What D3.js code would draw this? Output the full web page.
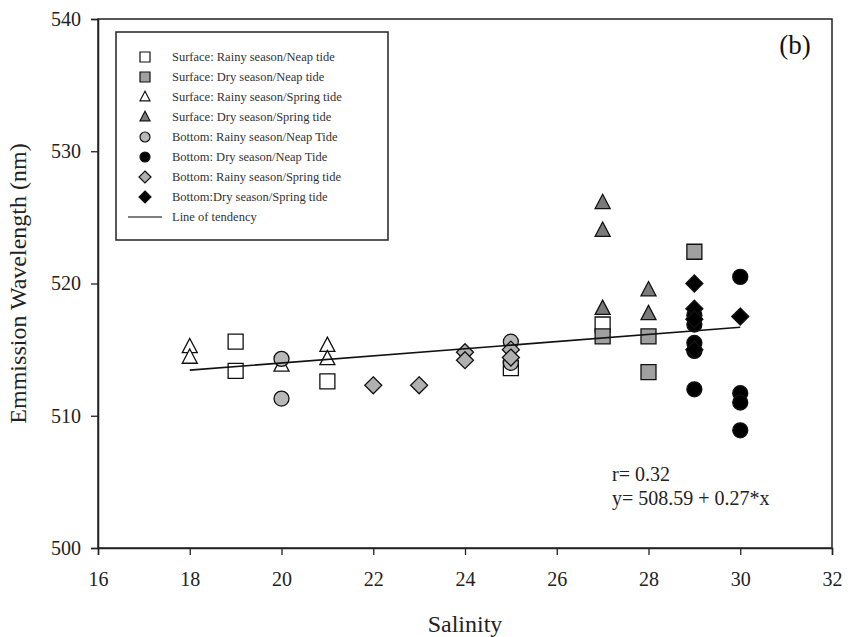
<!DOCTYPE html>
<html>
<head>
<meta charset="utf-8">
<script src="https://cdn.jsdelivr.net/npm/d3@7"></script>
<style>
  body { margin: 0; background: #fff; }
  svg { font-family: "Liberation Serif", "DejaVu Serif", serif; }
</style>
</head>
<body>
<div id="chart"></div>
<script>
/* Emission wavelength vs salinity, panel (b) */

// [salinity, wavelength] pairs for each group
const surfRainyNeap   = [[19, 515.6], [19, 513.4], [21, 512.6], [25, 513.6], [27, 516.9]];
const surfDryNeap     = [[27, 516.0], [28, 516.0], [28, 513.3], [29, 522.4]];
const surfRainySpring = [[18, 515.2], [18, 514.4], [20, 513.8], [21, 515.3], [21, 514.3]];
const surfDrySpring   = [[27, 526.1], [27, 524.0], [27, 518.1], [28, 519.5], [28, 517.7]];
const botRainyNeap    = [[20, 514.3], [20, 511.3], [25, 515.6], [25, 514.0]];
const botDryNeap      = [[29, 517.6], [29, 516.9], [29, 515.5], [29, 514.9], [29, 512.0],
                         [30, 520.5], [30, 511.7], [30, 511.0], [30, 508.9]];
const botRainySpring  = [[22, 512.3], [23, 512.3], [24, 514.8], [24, 514.2], [25, 515.0], [25, 514.4]];
const botDrySpring    = [[29, 520.0], [29, 518.1], [29, 517.3], [29, 515.0], [30, 517.5]];

const seriesNames = ["Surface: Rainy season/Neap tide", "Surface: Dry season/Neap tide",
  "Surface: Rainy season/Spring tide", "Surface: Dry season/Spring tide",
  "Bottom: Rainy season/Neap Tide", "Bottom: Dry season/Neap Tide",
  "Bottom: Rainy season/Spring tide", "Bottom:Dry season/Spring tide"];
const seriesData = [surfRainyNeap, surfDryNeap, surfRainySpring, surfDrySpring,
  botRainyNeap, botDryNeap, botRainySpring, botDrySpring];

// regression: y = 508.59 + 0.27*x, r = 0.32, over salinity 18..30
const trendIntercept = 508.59, trendSlope = 0.27, trendRange = [18, 30];
const xTicks = [16, 18, 20, 22, 24, 26, 28, 30, 32];
const yTicks = [500, 510, 520, 530, 540];

const width = 850, height = 637,
      margin = ({ top: 19, right: 18, bottom: 89, left: 98 });

const svg = d3.select("#chart").append("svg")
    .attr("width", width).attr("height", height);

const x = d3.scaleLinear().domain([16, 32]).range([margin.left, width - margin.right]);
const y = d3.scaleLinear().domain([500, 540]).range([height - margin.bottom, margin.top]);

// marker styles per series
const shapes = ["square", "square", "triangle", "triangle", "circle", "circle", "diamond", "diamond"];
const fills = ["#fff", "#a0a0a0", "#fff", "#7a7a7a", "#b8b8b8", "#000", "#b0b0b0", "#000"];

function marker(shape, s) {
  if (shape === "square") return d3.symbol(d3.symbolSquare, s * s)();
  if (shape === "circle") return d3.symbol(d3.symbolCircle, Math.PI * s * s / 4)();
  if (shape === "triangle") {
    const h = s * 0.95;
    return `M0,${-h * 0.6}L${s / 2},${h * 0.4}L${-s / 2},${h * 0.4}Z`;
  }
  const r = s / 2 + 1; // diamond
  return `M0,${-r}L${r},0L0,${r}L${-r},0Z`;
}

// frame
svg.append("rect")
    .attr("x", x(16)).attr("y", y(540))
    .attr("width", x(32) - x(16)).attr("height", y(500) - y(540))
    .attr("fill", "none").attr("stroke", "#222").attr("stroke-width", 1.5);

// axes
const xAxis = svg.append("g")
    .attr("transform", `translate(0,${y(500)})`)
    .call(d3.axisBottom(x).tickValues(xTicks).tickSize(7).tickPadding(17).tickFormat(d3.format("d")));
const yAxis = svg.append("g")
    .attr("transform", `translate(${x(16)},0)`)
    .call(d3.axisLeft(y).tickValues(yTicks).tickSize(7).tickPadding(10).tickFormat(d3.format("d")));
[xAxis, yAxis].forEach(g => {
  g.select(".domain").attr("stroke", "#222").attr("stroke-width", 1.5);
  g.selectAll(".tick line").attr("stroke", "#222").attr("stroke-width", 1.3);
  g.selectAll("text").attr("font-family", "Liberation Serif").attr("font-size", 20).attr("fill", "#222");
});

// axis titles
svg.append("text")
    .attr("x", (x(16) + x(32)) / 2).attr("y", 632)
    .attr("text-anchor", "middle").attr("font-family", "Liberation Serif")
    .attr("font-size", 24).attr("fill", "#222")
    .text("Salinity");
svg.append("text")
    .attr("transform", `translate(26,${(y(500) + y(540)) / 2}) rotate(-90)`)
    .attr("text-anchor", "middle").attr("font-family", "Liberation Serif")
    .attr("font-size", 24).attr("fill", "#222")
    .text("Emmission Wavelength (nm)");

// points
seriesData.forEach((pts, i) => {
  svg.append("g").selectAll("path")
    .data(pts)
    .join("path")
    .attr("transform", d => `translate(${x(d[0])},${y(d[1])})`)
    .attr("d", marker(shapes[i], 15))
    .attr("fill", fills[i])
    .attr("stroke", "#111")
    .attr("stroke-width", 1.3);
});

// line of tendency
svg.append("line")
    .attr("x1", x(trendRange[0])).attr("y1", y(trendIntercept + trendSlope * trendRange[0]))
    .attr("x2", x(trendRange[1])).attr("y2", y(trendIntercept + trendSlope * trendRange[1]))
    .attr("stroke", "#111").attr("stroke-width", 1.6);

// panel label and stats
svg.append("text").attr("x", 795).attr("y", 54)
    .attr("text-anchor", "middle").attr("font-size", 27).attr("fill", "#111").text("(b)");
svg.append("text").attr("x", 612).attr("y", 481)
    .attr("font-size", 20).attr("fill", "#222").text("r= 0.32");
svg.append("text").attr("x", 612).attr("y", 505)
    .attr("font-size", 20).attr("fill", "#222").text("y= 508.59 + 0.27*x");

// legend
const legend = svg.append("g");
legend.append("rect")
    .attr("x", 116).attr("y", 32).attr("width", 272).attr("height", 208)
    .attr("fill", "#fff").attr("stroke", "#222").attr("stroke-width", 1.5);
const rowY = i => 57 + i * 20;
seriesNames.forEach((name, i) => {
  legend.append("path")
    .attr("transform", `translate(145,${rowY(i)})`)
    .attr("d", marker(shapes[i], 10))
    .attr("fill", fills[i]).attr("stroke", "#111").attr("stroke-width", 1.2);
  legend.append("text")
    .attr("x", 172).attr("y", rowY(i) + 4)
    .attr("font-size", 12.5).attr("fill", "#333").text(name);
});
legend.append("line")
    .attr("x1", 128).attr("x2", 162).attr("y1", rowY(8)).attr("y2", rowY(8))
    .attr("stroke", "#555").attr("stroke-width", 1.6);
legend.append("text")
    .attr("x", 172).attr("y", rowY(8) + 4)
    .attr("font-size", 12.5).attr("fill", "#333").text("Line of tendency");
</script>
</body>
</html>
